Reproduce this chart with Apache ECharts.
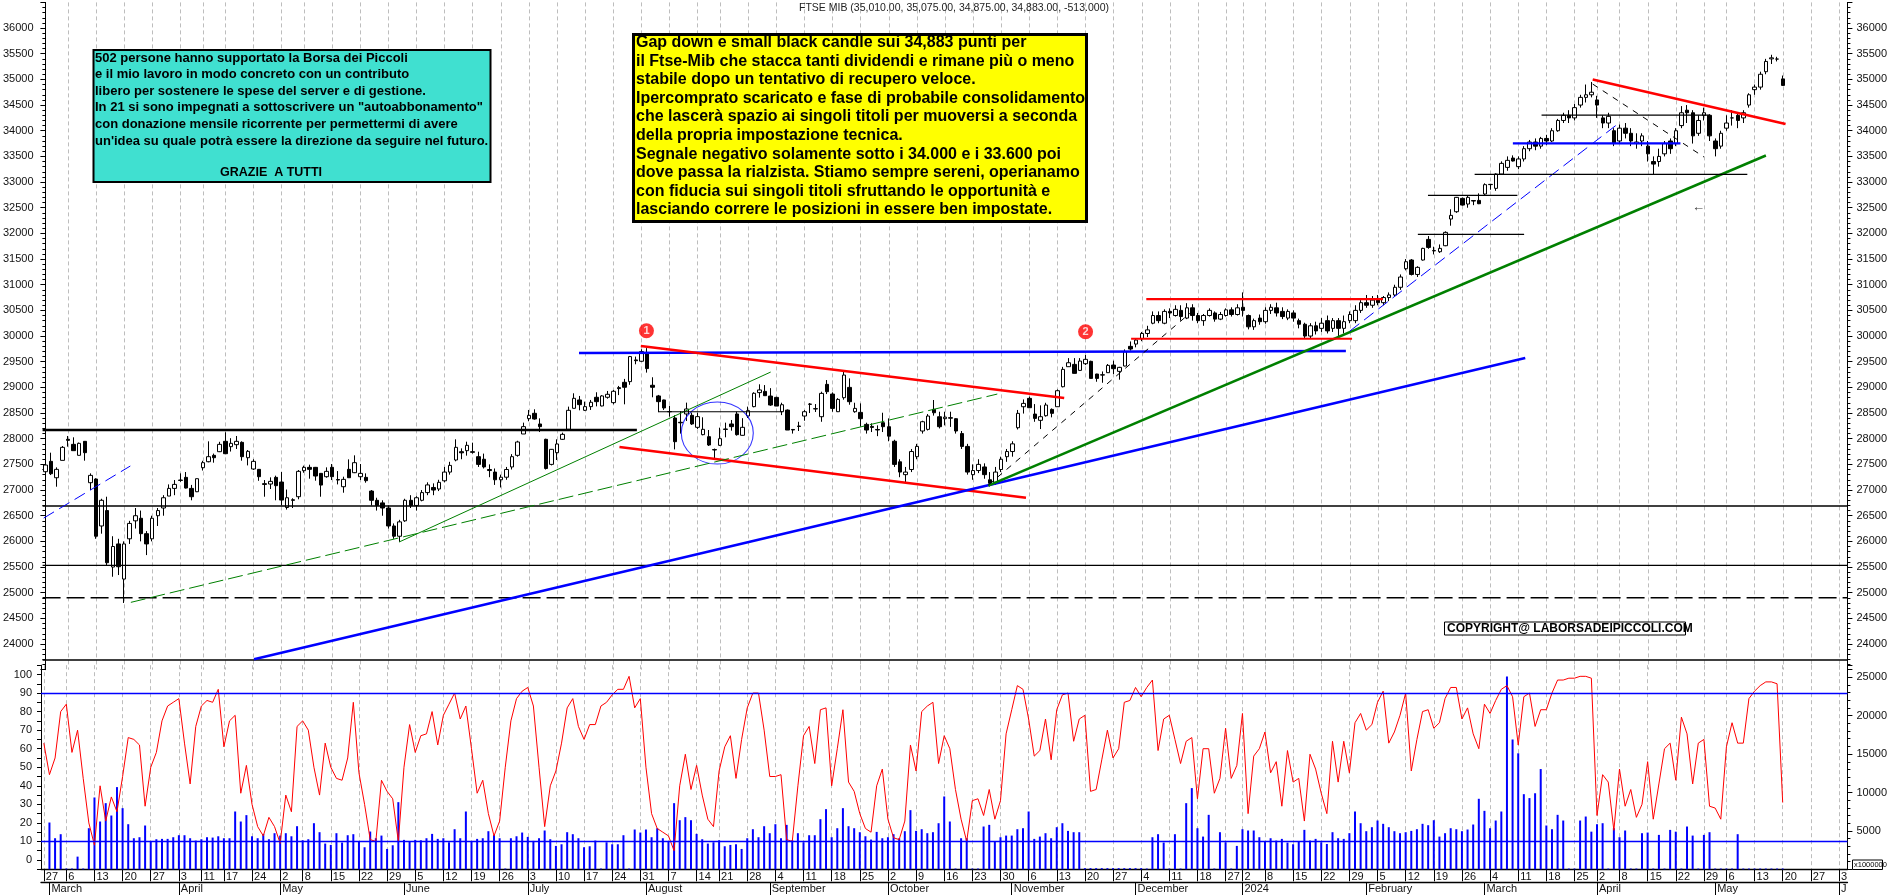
<!DOCTYPE html>
<html><head><meta charset="utf-8">
<style>html,body{margin:0;padding:0;background:#fff}#c{width:1890px;height:895px}</style>
<script src="https://cdn.jsdelivr.net/npm/echarts@6/dist/echarts.min.js"></script>
</head><body><div id="c"></div>
<script>
const opens=[27357,27559,27240,27578,27988,27890,27676,27949,27143,27214,
26300,26600,25500,25950,25266,26050,26400,26450,26150,26050,
26500,26650,26883,27032,27195,27247,27032,26967,27435,27552,
27676,27747,27949,27845,27884,27929,27630,27410,27403,27124,
27117,27247,27156,26660,26810,26870,27377,27442,27442,27325,
27260,27442,27205,27065,27403,27338,27260,27247,26980,26800,
26750,26650,26300,26100,26400,26800,26700,26800,26950,27050,
27020,27180,27350,27585,27747,27767,27747,27650,27600,27400,
27350,27200,27250,27450,27676,28092,28391,28495,28287,27988,
27500,27728,27988,28183,28592,28755,28553,28625,28807,28638,
28807,28703,28995,29099,29112,29535,29509,29665,29041,28833,
28755,28530,28404,28320,28482,28456,28222,28079,28040,27780,
27871,28180,28287,28482,28066,28443,28625,28898,28922,28831,
28805,28526,28558,28180,28247,28442,28675,28585,28429,29059,
28870,28526,28799,29000,28526,28513,28279,28240,28180,28312,
28234,27950,27550,27300,27400,27650,28150,28182,28572,28428,
28390,28410,28390,28100,27850,27300,27380,27450,27200,27150,
27400,27650,27750,28214,28623,28786,28480,28358,28448,28571,
28623,29013,29403,29448,29331,29461,29507,29260,29245,29286,
29435,29312,29416,29799,29844,29950,30050,30250,30400,30250,
30480,30400,30500,30350,30550,30400,30300,30400,30450,30330,
30400,30510,30420,30560,30400,30180,30350,30280,30500,30550,
30480,30350,30450,30300,30230,30000,30200,30150,30300,30150,
30300,30150,30300,30300,30500,30650,30600,30700,30650,30750,
30800,30950,31312,31481,31200,31481,31883,31665,31643,31760,
32280,32422,32682,32572,32640,32643,32767,32955,32877,33156,
33286,33468,33300,33450,33650,33780,33700,33850,33800,34000,
34200,34300,34250,34500,34650,34700,34600,34250,34150,34000,
33800,34050,33950,33750,33800,33700,33400,33400,33550,33800,
33750,34100,34400,34350,33950,34300,34300,33800,33700,34050,
34250,34300,34250,34500,34800,34850,35150,35400,35396,35010];
const closes=[27487,27318,27403,27832,27968,27767,27910,27728,27286,26100,
26800,25584,25900,25506,25950,26350,26500,26150,25950,26450,
26600,26850,27032,27110,27188,27039,26870,27221,27533,27650,
27630,27890,27708,27910,27949,27650,27754,27559,27260,27110,
27169,27085,26805,26850,26800,27364,27442,27403,27273,27097,
27364,27260,27195,27208,27240,27533,27325,27182,26800,26700,
26650,26300,26100,26380,26800,26700,26850,26950,27100,27000,
27150,27350,27480,27832,27725,27871,27735,27500,27450,27380,
27200,27250,27400,27650,27936,28235,28456,28384,28235,27420,
27793,27897,28085,28553,28787,28664,28625,28710,28722,28833,
28865,28924,28976,29002,29600,29520,29697,29366,29002,28722,
28599,28525,27942,28310,28579,28287,28430,28183,27877,27790,
28001,28190,28235,28079,28222,28547,28885,28950,28838,28656,
28636,28662,28169,28170,28240,28526,28670,28580,28883,28916,
28591,28766,29240,28721,28591,28390,28169,28220,28170,28234,
28050,27500,27350,27350,27750,27850,28331,28442,28506,28234,
28420,28400,28150,27850,27350,27380,27500,27300,27130,27350,
27600,27750,27900,28494,28688,28604,28396,28429,28656,28494,
28935,29351,29480,29273,29513,29546,29175,29175,29240,29429,
29364,29390,29695,29747,29922,30050,30120,30400,30300,30480,
30450,30520,30380,30550,30400,30300,30400,30500,30330,30420,
30510,30420,30550,30500,30180,30300,30280,30500,30560,30450,
30380,30480,30350,30230,30000,30200,30100,30250,30100,30300,
30150,30280,30420,30500,30650,30600,30700,30650,30750,30800,
30950,31150,31448,31200,31338,31708,31727,31660,31708,32020,
32351,32702,32552,32702,32630,32578,32949,32950,33156,33364,
33423,33410,33450,33650,33780,33700,33850,33800,34000,34200,
34300,34250,34450,34650,34700,34750,34500,34150,34280,33750,
34050,33950,33800,33780,33900,33550,33350,33500,33750,33650,
34000,34350,34350,33900,34200,34350,33900,33650,33950,34150,
34250,34200,34350,34700,34850,35100,35350,35420,35396,34883];
const lows=[27273,27292,27065,27578,27845,27767,27676,27572,27000,26050,
26150,25530,25311,25344,24800,25950,26250,26000,25733,26000,
26300,26500,26883,26900,27160,27030,26800,26960,27380,27540,
27533,27740,27700,27750,27800,27572,27480,27390,27180,26870,
27020,26800,26700,26620,26650,26820,27337,27221,27182,26870,
27240,27195,27110,26948,27240,27330,27195,27143,26700,26600,
26500,26250,26050,25990,26380,26650,26600,26780,26900,26900,
26980,27150,27300,27560,27600,27670,27710,27450,27420,27250,
27100,27050,27200,27400,27650,28092,28340,28370,28130,27400,
27480,27585,27975,28170,28590,28553,28540,28560,28630,28630,
28780,28670,28850,28670,29050,29450,29500,29288,28807,28515,
28560,28430,27792,28100,28345,28268,28190,28066,27858,27585,
27860,28027,28157,28060,28060,28404,28612,28800,28838,28640,
28636,28460,28169,28100,28150,28350,28500,28520,28330,28870,
28526,28520,28760,28662,28506,28234,28100,28130,28050,28130,
27950,27450,27250,27150,27350,27600,28100,28160,28450,28200,
28260,28230,28100,27800,27300,27200,27330,27220,27070,27100,
27350,27550,27650,28180,28490,28600,28330,28188,28430,28416,
28620,29000,29400,29270,29320,29435,29175,29110,29090,29280,
29260,29150,29410,29715,29780,29900,29980,30230,30250,30230,
30350,30380,30300,30330,30300,30250,30200,30380,30280,30310,
30380,30380,30400,30380,30130,30120,30220,30240,30430,30380,
30330,30310,30280,30150,29950,29950,30030,30080,30050,30080,
29980,30050,30250,30250,30450,30550,30550,30600,30600,30680,
30770,30900,31280,31180,31150,31470,31700,31590,31620,31750,
32150,32400,32540,32500,32550,32570,32740,32850,32830,33150,
33220,33400,33250,33400,33600,33620,33650,33720,33780,33980,
34150,34150,34200,34450,34550,34650,34250,34050,34050,33700,
33750,33850,33700,33650,33700,33400,33150,33300,33500,33550,
33700,34050,34150,33750,33900,34200,33800,33500,33650,34000,
34100,34050,34150,34450,34700,34800,35100,35300,35350,34875];
const highs=[27663,27728,27442,27858,28053,28027,27925,27955,27325,27230,
26830,26870,26100,26050,26000,26400,26650,26600,26200,26500,
26650,26900,27110,27195,27325,27351,27100,27225,27570,27949,
27710,27940,28125,28010,28053,27949,27780,27600,27410,27195,
27247,27280,27351,27010,26840,27390,27475,27494,27450,27330,
27442,27507,27370,27260,27598,27676,27507,27325,27000,26850,
26800,26700,26350,26420,26830,26900,26880,27000,27150,27130,
27200,27450,27550,27988,27812,27942,27923,27747,27710,27500,
27420,27300,27450,27700,27960,28313,28560,28573,28397,28000,
27800,27988,28118,28625,28885,28833,28722,28755,28905,28850,
28930,28950,29028,29165,29612,29600,29743,29765,29197,28853,
28760,28640,28456,28534,28703,28508,28508,28417,28170,27808,
28215,28313,28365,28527,28400,28625,28905,29060,29045,28985,
28818,28701,28570,28190,28330,28558,28695,28675,28916,29143,
28903,28790,29305,29175,28701,28688,28312,28300,28260,28506,
28396,27980,27600,27450,27800,27900,28350,28480,28754,28526,
28526,28526,28400,28150,27900,27500,27600,27520,27350,27450,
27650,27800,27950,28560,28765,28820,28675,28650,28700,28590,
28960,29400,29570,29570,29570,29630,29520,29265,29310,29455,
29520,29400,29740,29895,29950,30080,30200,30480,30480,30520,
30540,30600,30600,30640,30620,30450,30430,30540,30480,30470,
30540,30560,30620,30850,30420,30340,30420,30560,30620,30650,
30560,30520,30500,30340,30260,30250,30280,30350,30400,30350,
30350,30400,30480,30600,30700,30800,30780,30800,30780,30850,
31000,31200,31500,31500,31360,31720,31948,31740,31785,32040,
32470,32710,32700,32728,32650,32780,32975,32965,33170,33403,
33500,33520,33500,33700,33820,33850,33880,33920,34050,34230,
34350,34400,34520,34700,34900,34950,34680,34300,34350,34050,
34120,34150,34050,33950,33950,33800,33500,33650,33800,33850,
34050,34480,34500,34400,34300,34450,34320,33850,34000,34300,
34400,34350,34400,34730,34900,35150,35400,35480,35440,35075];
const oscillator=[63,46,55,80,84,58,70,44,20,8,40,21,34,26,45,66,65,62,29,50,
58,75,83,85,87,63,41,72,83,86,85,92,61,75,78,36,51,30,18,13,
23,18,9,35,26,72,75,70,50,35,63,50,44,43,55,85,47,30,11,10,
43,37,33,10,50,73,58,67,68,80,62,78,84,90,76,83,60,36,43,25,
13,21,50,75,87,91,93,83,50,18,40,48,63,82,87,72,65,73,73,83,
85,89,92,92,99,82,87,50,25,17,15,13,5,40,57,38,51,35,22,18,
48,61,67,44,65,82,90,90,70,45,45,46,11,10,40,67,72,52,81,82,
40,60,81,42,37,25,17,15,40,49,22,12,11,21,62,48,80,83,85,52,
67,60,38,22,10,32,33,24,38,22,32,68,81,94,92,76,56,59,76,54,
81,89,90,64,76,78,37,38,54,70,55,60,85,86,93,88,93,97,59,76,
78,65,52,64,66,33,60,60,36,44,71,44,51,79,25,56,60,69,47,53,
29,59,42,44,21,57,49,36,25,64,42,64,47,74,79,70,73,85,91,63,
69,78,90,48,65,80,81,71,74,87,93,93,76,82,68,60,84,79,86,92,
94,88,62,88,90,72,81,81,90,97,97,98,98,99,99,98,24,46,42,16,
49,29,38,23,30,53,22,41,60,63,43,77,68,41,63,65,29,28,22,61,
74,63,63,87,91,94,96,96,95,31];
const volume=[0,6090,4045,4570,100,100,1650,100,5350,9350,
6220,8610,7000,10700,7960,5870,4045,4176,5700,3610,
3915,3960,3960,4176,4437,4437,4045,3740,3915,4176,
4130,4300,4045,4045,7525,6220,7050,4300,4045,4610,
3915,4700,4390,4700,4300,5610,3780,3915,6000,4830,
3350,3175,4700,3480,4437,4570,3570,2870,4915,4045,
4390,2650,3130,8740,3830,3570,3830,3780,4045,4610,
3960,4045,3520,5220,4045,7525,3610,3960,4045,4960,
4480,4045,100,4045,4300,4785,4220,3700,4045,5050,
3915,3045,3260,4830,4570,4045,2870,3000,3740,100,
3520,3260,3260,4437,100,5180,4785,5180,4176,5350,
4045,3610,8610,6390,6790,6390,4610,3915,3350,3520,
3780,3000,3175,3260,2650,4045,5220,4176,5610,4700,
5870,4045,5785,3780,4700,3520,4437,4437,6525,7830,
4176,5350,7960,5610,5350,4830,4300,3870,4870,4045,
4176,4570,4045,4960,7700,5000,5220,4700,4830,6000,
9480,6220,100,4045,4045,100,100,5570,5785,3610,
4176,4390,4390,5220,5350,7525,3960,4260,4700,4045,
5480,6000,5000,4830,4830,150,150,150,150,150,
150,150,150,150,150,150,100,4176,4570,3480,
100,4570,100,8610,10570,5350,4260,7090,100,4830,
3520,100,3045,5220,5050,5050,4176,3610,4045,3740,
3960,3480,3260,3610,5135,3740,3960,3520,3300,4830,
4045,3960,4700,7525,6000,4960,5480,6350,5920,5480,
4960,4700,4830,5000,5220,5920,5740,6390,4260,4700,
5350,5220,4960,5180,5830,9180,7610,5350,6350,7525,
25100,16900,15100,9780,9270,9900,13050,5700,5220,7090,
6350,100,100,6350,6870,4900,5870,6000,100,5350,
4176,5050,100,100,4700,4785,100,4480,100,5130,
4900,100,5570,4390,100,4480,4830,100,100,100,
100,4570,100,100,100,100,100,100,100,100];
const weekStarts=[0,4,9,14,19,24,28,32,37,42,46,51,56,61,66,71,76,81,86,91,96,101,106,111,116,120,125,130,135,140,145,150,155,160,165,170,175,180,185,190,195,200,205,210,213,217,222,227,232,237,242,247,252,257,262,267,272,276,280,285,290,295,299,304,309,314,319];
const weekLabels=['27','6','13','20','27','3','11','17','24','2','8','15','22','29','5','12','19','26','3','10','17','24','31','7','14','21','28','4','11','18','25','2','9','16','23','30','6','13','20','27','4','11','18','27','2','8','15','22','29','5','12','19','26','4','11','18','25','2','8','15','22','29','6','13','20','27','3'];
const monthStarts=[1,24,42,64,86,107,129,150,172,194,213,235,256,276,297,319];
const monthLabels=['March','April','May','June','July','August','September','October','November','December','2024','February','March','April','May','J'];
const holidays=['2023-04-07','2023-04-10','2023-05-01','2023-08-15','2023-12-25','2023-12-26','2024-01-01','2024-03-29','2024-04-01','2024-05-01'];
const slotCount=321;
const priceTicksMin=23500, priceTicksMax=36500;
// trend lines in chart units: bar index and index points
const trendLines=[
 [-0.5,28170,105.2,28170,'#000',2.4,null],
 [-0.5,26690,320.5,26690,'#000',1.4,null],
 [-0.5,25533,320.5,25533,'#000',1.4,null],
 [-0.5,24902,320.5,24902,'#000',1.4,[18,6]],
 [-0.5,23688,320.5,23688,'#000',1.4,null],
 [94.9,29669,231.3,29708,'#0000ff',2.6,null],
 [105.9,29805,181.2,28792,'#ff0000',2.6,null],
 [102.1,27838,174.4,26850,'#ff0000',2.6,null],
 [37.1,23702,263.2,29571,'#0000ff',2.6,null],
 [167.7,27086,306,33518,'#008000',2.6,null],
 [62.9,25987,129,29299,'#008000',1,null],
 [15.2,24812,169.3,28870,'#008000',1,[15,5]],
 [-0.3,26454,15.1,27468,'#0000ff',1,[12,6]],
 [232,30097,280.1,34169,'#0000ff',1,[12,6]],
 [167.7,27097,203.6,30448,'#000',1,[6,6]],
 [275.2,34909,295,33487,'#000',1,[6,6]],
 [275.2,34997,309.5,34130,'#ff0000',2.6,null],
 [109.1,28525,131.1,28525,'#000',1.2,null],
 [244.1,31981,263,31981,'#000',1.2,null],
 [245.9,32741,261.8,32741,'#000',1.2,null],
 [254.2,33150,302.7,33150,'#000',1.2,null],
 [266.1,34305,296.1,34305,'#000',1.2,null],
 [195.8,30721,237.9,30721,'#ff0000',2.2,null],
 [193.1,29947,232.4,29947,'#ff0000',2.2,null],
 [261,33754,290.8,33754,'#0000ff',2.2,null]
];
const title='FTSE MIB (35,010.00, 35,075.00, 34,875.00, 34,883.00, -513.000)';
const yellowLines=['Gap down e small black candle sui 34,883 punti per','il Ftse-Mib che stacca tanti dividendi e rimane più o meno','stabile dopo un tentativo di recupero veloce.','Ipercomprato scaricato e fase di probabile consolidamento','che lascerà spazio ai singoli titoli per muoversi a seconda','della propria impostazione tecnica.','Segnale negativo solamente sotto i 34.000 e i 33.600 poi','dove passa la rialzista. Stiamo sempre sereni, operianamo','con fiducia sui singoli titoli sfruttando le opportunità e','lasciando correre le posizioni in essere ben impostate.'];
const cyanLines=['502 persone hanno supportato la Borsa dei Piccoli','e il mio lavoro in modo concreto con un contributo','libero per sostenere le spese del server e di gestione.','In 21 si sono impegnati a sottoscrivere un "autoabbonamento"','con donazione mensile ricorrente per permettermi di avere',"un'idea su quale potrà essere la direzione da seguire nel futuro."];

const FF='"Liberation Sans",Arial,sans-serif';
const categories=[];
for(let d=new Date(Date.UTC(2023,1,28));categories.length<slotCount;d=new Date(d.getTime()+864e5)){
  const s=d.toISOString().slice(0,10), w=d.getUTCDay();
  if(w!==0&&w!==6&&!holidays.includes(s))categories.push(s);
}
const isWeek=i=>weekStarts.includes(i), isMonth=i=>monthStarts.includes(i);
const candleData=opens.map((o,i)=>[o,closes[i],lows[i],highs[i]]);
const split={show:true,interval:isWeek,alignWithLabel:true,lineStyle:{color:'#bdbdbd',type:[4,3],width:1}};
const gridL=41,gridW=slotCount*5.63;
const axisLine={show:true,lineStyle:{color:'#000',width:1}};
const labelCol='#111';
const series=[
 {type:'candlestick',name:'FTSE MIB',xAxisIndex:0,yAxisIndex:0,data:candleData,barWidth:4,clip:true,
  itemStyle:{color:'#fff',color0:'#000',borderColor:'#000',borderColor0:'#000',borderWidth:1}},
 {type:'bar',name:'Volume',xAxisIndex:1,yAxisIndex:3,data:volume,barWidth:2,itemStyle:{color:'#0000ff'}},
 {type:'line',name:'Oscillator',xAxisIndex:1,yAxisIndex:2,data:oscillator,showSymbol:false,symbol:'none',
  lineStyle:{color:'#ff0000',width:1},
  markLine:{silent:true,symbol:'none',label:{show:false},animation:false,lineStyle:{color:'#0000ff',width:1.4,type:'solid'},data:[{yAxis:90},{yAxis:10}]}}
];
trendLines.forEach(t=>series.push({type:'line',xAxisIndex:3,yAxisIndex:0,symbol:'none',silent:true,
  data:[[t[0],t[1]],[t[2],t[3]]],lineStyle:{color:t[4],width:t[5],type:t[6]||'solid'}}));
series.push({type:'scatter',xAxisIndex:3,yAxisIndex:0,silent:true,symbol:'circle',symbolSize:[72,62],
  data:[[119.5,28110]],itemStyle:{color:'rgba(0,0,0,0)',borderColor:'#0000ff',borderWidth:1}});
series.push({type:'scatter',xAxisIndex:3,yAxisIndex:0,silent:true,symbolSize:15,
  data:[{value:[106.9,30103],label:{formatter:'1'}},{value:[185,30084],label:{formatter:'2'}}],
  itemStyle:{color:'#ff0000'},label:{show:true,position:'inside',color:'#fff',fontWeight:'bold',fontSize:11,fontFamily:FF}});
series.push({type:'scatter',xAxisIndex:3,yAxisIndex:0,silent:true,symbolSize:1,
  data:[{value:[294,32513]}],itemStyle:{color:'rgba(0,0,0,0)'},label:{show:true,position:'inside',formatter:'←',color:'#000',fontWeight:'bold',fontSize:13,fontFamily:FF}});

const box=(x,y,w,h,fill,lw)=>({type:'rect',shape:{x,y,width:w,height:h},style:{fill,stroke:'#000',lineWidth:lw},z:50,silent:true});
const txt=(x,y,text,font,fill,extra)=>({type:'text',x,y,style:Object.assign({text,font,fill:fill||'#000',textVerticalAlign:'top'},extra||{}),z:51,silent:true});
const graphics=[
 txt(799,3,title,'10.5px '+FF,'#222'),
 box(633.5,34.5,453,187,'#ffff00',3),
 box(93.5,50,397,132,'#40e0d0',2),
 box(1444.5,622,241,13,'#fff',1),
 box(1852.5,860,30,9.5,'#fff',1),
 txt(1854,861,'x1000000','7.5px '+FF,'#000'),
 txt(1447,622.5,'COPYRIGHT@ LABORSADEIPICCOLI.COM','bold 12px '+FF,'#000'),
 txt(220,166,'GRAZIE  A TUTTI','bold 12.5px '+FF,'#000')
];
yellowLines.forEach((l,i)=>graphics.push(txt(636,34.5+i*18.6,l,'bold 16px '+FF,'#000')));
cyanLines.forEach((l,i)=>graphics.push(txt(95,51.5+i*16.6,l,'bold 13px '+FF,'#000')));

const chart=echarts.init(document.getElementById('c'),null,{renderer:'canvas'});
chart.setOption({
 animation:false,backgroundColor:'#fff',
 grid:[
  {left:gridL,width:gridW,top:2.4,height:667.3,containLabel:false},
  {left:gridL,width:gridW,top:665.2,height:204.1,containLabel:false}
 ],
 xAxis:[
  {type:'category',gridIndex:0,data:categories,boundaryGap:true,axisLine:{show:false},axisTick:{show:false},axisLabel:{show:false},splitLine:split},
  {type:'category',gridIndex:1,data:categories,boundaryGap:true,axisLine:{show:true,onZero:false,lineStyle:{color:'#000',width:1.4}},
   axisTick:{show:true,interval:isWeek,alignWithLabel:true,length:12,lineStyle:{color:'#000',width:1}},
   axisLabel:{show:true,interval:isWeek,align:'left',margin:2,padding:[0,0,0,2],fontSize:11,fontFamily:FF,color:labelCol,
     formatter:(v,i)=>{const k=weekStarts.indexOf(i);return k>=0?weekLabels[k]:'';}},
   splitLine:split},
  {type:'category',gridIndex:1,data:categories,boundaryGap:true,position:'bottom',offset:13,
   axisLine:{show:true,onZero:false,lineStyle:{color:'#000',width:1.4}},
   axisTick:{show:true,interval:isMonth,alignWithLabel:true,length:13,lineStyle:{color:'#000',width:1}},
   axisLabel:{show:true,interval:isMonth,align:'left',margin:1,padding:[0,0,0,2],fontSize:11,fontFamily:FF,color:labelCol,
     formatter:(v,i)=>{const k=monthStarts.indexOf(i);return k>=0?monthLabels[k]:'';}},
   splitLine:{show:false}},
  {type:'value',gridIndex:0,min:-0.5,max:slotCount-0.5,show:false,splitLine:{show:false}}
 ],
 yAxis:[
  {type:'value',gridIndex:0,position:'left',min:priceTicksMin,max:priceTicksMax,interval:500,axisLine,splitLine:{show:false},
   axisTick:{show:true,length:5,lineStyle:{color:'#000'}},minorTick:{show:true,splitNumber:5,length:3,lineStyle:{color:'#000'}},
   axisLabel:{margin:9,fontSize:11,fontFamily:FF,color:labelCol,formatter:v=>(v<24000||v>36000)?'':String(v)}},
  {type:'value',gridIndex:0,position:'right',min:priceTicksMin,max:priceTicksMax,interval:500,axisLine,splitLine:{show:false},
   axisTick:{show:true,length:5,lineStyle:{color:'#000'}},minorTick:{show:true,splitNumber:5,length:3,lineStyle:{color:'#000'}},
   axisLabel:{margin:9,fontSize:11,fontFamily:FF,color:labelCol,formatter:v=>(v<24000||v>36000)?'':String(v)}},
  {type:'value',gridIndex:1,position:'left',min:-5,max:105,interval:5,axisLine,splitLine:{show:false},
   axisTick:{show:true,length:4,lineStyle:{color:'#000'}},
   axisLabel:{margin:9,fontSize:11,fontFamily:FF,color:labelCol,formatter:v=>(v>=0&&v<=100&&v%10===0)?String(v):''}},
  {type:'value',gridIndex:1,position:'right',min:0,max:26570,interval:5000,axisLine,splitLine:{show:false},
   axisTick:{show:true,length:5,lineStyle:{color:'#000'}},minorTick:{show:true,splitNumber:5,length:3,lineStyle:{color:'#000'}},
   axisLabel:{margin:9,fontSize:11,fontFamily:FF,color:labelCol,showMaxLabel:false,formatter:v=>(v>0&&v<=25000)?String(v):''}}
 ],
 series,
 graphic:graphics
});
</script></body></html>
